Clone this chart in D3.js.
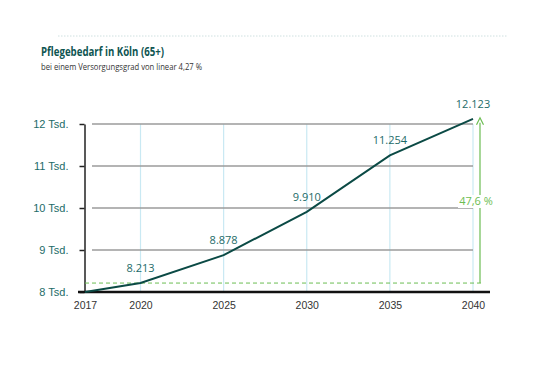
<!DOCTYPE html>
<html>
<head>
<meta charset="utf-8">
<script src="https://cdn.jsdelivr.net/npm/d3@7"></script>
<style>
  body { margin: 0; background: #fff; }
  svg { display: block; font-family: "Open Sans", "Noto Sans", sans-serif; }
</style>
</head>
<body>
<div id="chart"></div>
<script>
// data
const years = [2017, 2020, 2025, 2030, 2035, 2040];
const values = [8000, 8213, 8878, 9910, 11254, 12123];
const labelYears = [2020, 2025, 2030, 2035, 2040];
const yTicks = [8000, 9000, 10000, 11000, 12000];
const growthLabel = '47,6 %';

const teal = '#1d6b68';
const lineColor = '#0b4a45';
const green = '#6cbd52';

const svg = d3.select('#chart').append('svg')
  .attr('width', 545)
  .attr('height', 375);

// 2017 sits right on the axis, the rest is 5-year spacing
const x = d3.scaleLinear().domain([2017, 2020, 2040]).range([85, 140.5, 473]);
const y = d3.scaleLinear().domain([8000, 12000]).range([292, 124]);

// top dotted rule
svg.append('line')
  .attr('x1', 58).attr('x2', 508).attr('y1', 36).attr('y2', 36)
  .attr('stroke', '#cfe0e0').attr('stroke-width', 1)
  .attr('stroke-dasharray', '1.5,1.5');

svg.append('text')
  .attr('x', 41).attr('y', 56)
  .attr('fill', '#0f5552').attr('font-size', 11.5).attr('font-weight', 700)
  .style('font-family', '"Liberation Sans Narrow", "Open Sans", sans-serif')
  .attr('textLength', 123).attr('lengthAdjust', 'spacingAndGlyphs')
  .text('Pflegebedarf in Köln (65+)');

svg.append('text')
  .attr('x', 41).attr('y', 69.5)
  .attr('fill', '#333').attr('font-size', 9)
  .style('font-family', '"Liberation Sans Narrow", "Open Sans", sans-serif')
  .attr('textLength', 161).attr('lengthAdjust', 'spacingAndGlyphs')
  .text('bei einem Versorgungsgrad von linear 4,27 %');

// vertical light blue grid
svg.append('g').selectAll('line')
  .data(labelYears)
  .join('line')
  .attr('x1', d => x(d)).attr('x2', d => x(d))
  .attr('y1', y(12000)).attr('y2', y(8000))
  .attr('stroke', '#c9e9f3').attr('stroke-width', 1.2);

// horizontal grid
svg.append('g').selectAll('line')
  .data(yTicks.slice(1))
  .join('line')
  .attr('x1', 92).attr('x2', x(2040))
  .attr('y1', d => y(d)).attr('y2', d => y(d))
  .attr('stroke', '#9b9b9b').attr('stroke-width', 1.6);

// y axis
const yAxis = svg.append('g')
  .attr('transform', `translate(${x(2017) - 0.5},0)`)
  .call(d3.axisLeft(y).tickValues(yTicks).tickSize(5).tickSizeOuter(0)
    .tickFormat(d => d / 1000 + ' Tsd.'));
yAxis.select('.domain').attr('stroke', '#222').attr('stroke-width', 1.5);
yAxis.selectAll('.tick line').attr('stroke', '#222').attr('stroke-width', 1.5);
yAxis.selectAll('.tick text')
  .attr('x', -16).attr('dy', '0.35em')
  .attr('fill', teal).attr('font-size', 11);

// x axis labels
const xAxis = svg.append('g')
  .attr('transform', `translate(0,${y(8000)})`)
  .call(d3.axisBottom(x).tickValues(years).tickSize(0).tickFormat(d3.format('d')));
xAxis.select('.domain').remove();
xAxis.selectAll('.tick text')
  .attr('y', 10).attr('fill', '#333').attr('font-size', 10.5);

// reference line at 2020 level
svg.append('line')
  .attr('x1', x(2017)).attr('x2', 481)
  .attr('y1', y(values[1])).attr('y2', y(values[1]))
  .attr('stroke', green).attr('stroke-width', 1)
  .attr('stroke-dasharray', '4,3');

// baseline
svg.append('line')
  .attr('x1', 78).attr('x2', 490)
  .attr('y1', y(8000)).attr('y2', y(8000))
  .attr('stroke', '#111').attr('stroke-width', 2.6);

// growth arrow
const ax = 480;
svg.append('line')
  .attr('x1', ax).attr('x2', ax)
  .attr('y1', y(values[1])).attr('y2', y(12123) + 4)
  .attr('stroke', green).attr('stroke-width', 1.2);
svg.append('path')
  .attr('d', `M${ax - 3.5},${y(12123) + 6} L${ax},${y(12123) - 1} L${ax + 3.5},${y(12123) + 6}`)
  .attr('fill', 'none').attr('stroke', green).attr('stroke-width', 1.2);
svg.append('rect')
  .attr('x', 458).attr('y', 195).attr('width', 38).attr('height', 13)
  .attr('fill', '#fff');
svg.append('text')
  .attr('x', 476).attr('y', 205)
  .attr('text-anchor', 'middle')
  .attr('fill', green).attr('font-size', 11)
  .text(growthLabel);

// the series line
const data = years.map((yr, i) => ({ year: yr, value: values[i] }));
svg.append('path')
  .datum(data)
  .attr('fill', 'none')
  .attr('stroke', lineColor)
  .attr('stroke-width', 2)
  .attr('d', d3.line().x(d => x(d.year)).y(d => y(d.value)));

// value labels
const fmt = d3.formatLocale({ decimal: ',', thousands: '.', grouping: [3], currency: ['', '€'] }).format(',d');
svg.append('g').selectAll('text')
  .data(data.filter(d => d.year > 2017))
  .join('text')
  .attr('x', d => x(d.year))
  .attr('y', d => y(d.value) - 11)
  .attr('text-anchor', 'middle')
  .attr('fill', teal).attr('font-size', 11)
  .text(d => fmt(d.value));
</script>
</body>
</html>
